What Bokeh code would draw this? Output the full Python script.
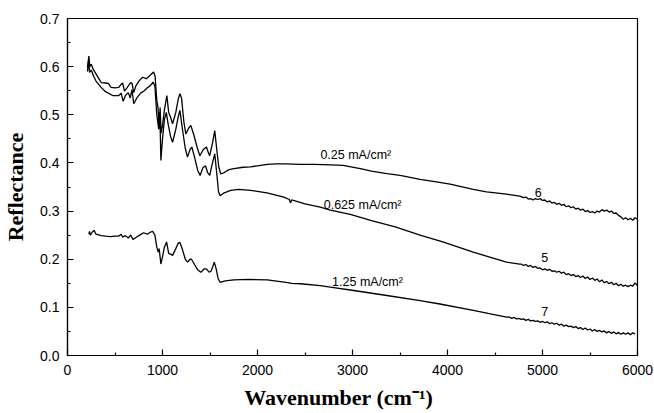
from bokeh.plotting import figure
from bokeh.models import Label, FixedTicker, NumeralTickFormatter
from bokeh.embed import file_html
from bokeh.resources import INLINE

# ---- data ----
wn_6 = [210, 225, 235, 250, 270, 300, 330, 354, 400, 430, 458, 500, 540, 563, 580, 600, 630, 660, 679, 697, 720, 760, 791, 830, 870, 906, 922, 940, 952, 965, 975, 985, 1000, 1020, 1046, 1065, 1085, 1106, 1140, 1165, 1183, 1200, 1225, 1246, 1275, 1298, 1330, 1365, 1393, 1430, 1462, 1485, 1497, 1525, 1550, 1570, 1592, 1613, 1650, 1700, 1752, 1850, 1927, 2103, 2200, 2300, 2452, 2600, 2767, 2900, 3082, 3200, 3362, 3502, 3711, 3900, 4027, 4271, 4411, 4621, 4760,
        4775, 4800, 4825, 4850, 4875, 4900, 4925, 4950, 4975, 5000, 5025, 5050, 5075, 5100, 5125, 5150, 5175, 5200, 5225, 5250, 5275, 5300, 5325, 5350, 5375, 5400, 5425, 5450, 5475, 5500, 5525, 5550, 5575, 5600, 5625, 5650, 5675, 5700, 5725, 5750, 5775, 5800, 5825, 5850, 5875, 5900, 5925, 5950, 5975, 6000]
r_6 = [0.598, 0.622, 0.600, 0.605, 0.595, 0.585, 0.575, 0.567, 0.566, 0.565, 0.557, 0.556, 0.557, 0.563, 0.566, 0.549, 0.557, 0.566, 0.566, 0.546, 0.560, 0.572, 0.578, 0.575, 0.582, 0.589, 0.580, 0.530, 0.516, 0.475, 0.515, 0.462, 0.478, 0.510, 0.540, 0.505, 0.495, 0.481, 0.505, 0.532, 0.544, 0.535, 0.485, 0.460, 0.472, 0.478, 0.458, 0.432, 0.415, 0.428, 0.433, 0.420, 0.415, 0.440, 0.467, 0.430, 0.392, 0.377, 0.380, 0.386, 0.388, 0.391, 0.392, 0.397, 0.398, 0.398, 0.397, 0.397, 0.396, 0.395, 0.388, 0.383, 0.378, 0.374, 0.366, 0.360, 0.356, 0.345, 0.340, 0.335, 0.331,
       0.330, 0.328, 0.329, 0.325, 0.326, 0.323, 0.326, 0.324, 0.326, 0.322, 0.323, 0.319, 0.321, 0.317, 0.318, 0.314, 0.316, 0.312, 0.314, 0.309, 0.311, 0.307, 0.309, 0.304, 0.306, 0.302, 0.304, 0.299, 0.301, 0.297, 0.299, 0.296, 0.300, 0.298, 0.303, 0.300, 0.302, 0.298, 0.300, 0.295, 0.296, 0.291, 0.288, 0.283, 0.286, 0.282, 0.285, 0.281, 0.286, 0.283]

wn_5 = [210, 222, 232, 250, 275, 300, 354, 400, 476, 540, 565, 585, 610, 640, 660, 679, 697, 730, 770, 808, 840, 870, 900, 920, 940, 960, 972, 983, 1000, 1020, 1040, 1060, 1085, 1106, 1140, 1165, 1183, 1210, 1240, 1263, 1290, 1309, 1340, 1370, 1396, 1425, 1452, 1475, 1497, 1520, 1550, 1570, 1590, 1606, 1650, 1718, 1800, 1927, 2100, 2277, 2335, 2347, 2360, 2500, 2661, 2767, 2977, 3200, 3450, 3711, 3950, 4271, 4621, 4760,
        4775, 4800, 4825, 4850, 4875, 4900, 4925, 4950, 4975, 5000, 5025, 5050, 5075, 5100, 5125, 5150, 5175, 5200, 5225, 5250, 5275, 5300, 5325, 5350, 5375, 5400, 5425, 5450, 5475, 5500, 5525, 5550, 5575, 5600, 5625, 5650, 5675, 5700, 5725, 5750, 5775, 5800, 5825, 5850, 5875, 5900, 5925, 5950, 5975, 6000]
r_5 = [0.590, 0.612, 0.588, 0.593, 0.580, 0.570, 0.557, 0.548, 0.540, 0.540, 0.545, 0.528, 0.540, 0.546, 0.535, 0.552, 0.523, 0.535, 0.545, 0.550, 0.556, 0.560, 0.568, 0.560, 0.500, 0.470, 0.505, 0.405, 0.450, 0.490, 0.505, 0.480, 0.455, 0.443, 0.470, 0.495, 0.509, 0.470, 0.430, 0.412, 0.428, 0.433, 0.410, 0.385, 0.374, 0.390, 0.394, 0.380, 0.374, 0.395, 0.419, 0.380, 0.340, 0.332, 0.338, 0.343, 0.345, 0.343, 0.338, 0.329, 0.324, 0.317, 0.323, 0.315, 0.308, 0.302, 0.293, 0.280, 0.267, 0.250, 0.236, 0.2146, 0.194, 0.190,
       0.190, 0.187, 0.189, 0.185, 0.187, 0.183, 0.185, 0.181, 0.182, 0.178, 0.180, 0.177, 0.179, 0.175, 0.176, 0.173, 0.175, 0.171, 0.173, 0.168, 0.170, 0.166, 0.168, 0.164, 0.166, 0.162, 0.165, 0.160, 0.163, 0.158, 0.161, 0.156, 0.159, 0.153, 0.157, 0.151, 0.154, 0.149, 0.152, 0.147, 0.150, 0.145, 0.148, 0.144, 0.146, 0.143, 0.146, 0.144, 0.151, 0.145]

wn_7 = [225, 232, 240, 260, 280, 300, 354, 400, 450, 500, 540, 565, 580, 610, 640, 665, 690, 720, 760, 800, 840, 870, 896, 920, 940, 955, 965, 983, 1000, 1020, 1043, 1065, 1090, 1106, 1140, 1165, 1183, 1210, 1240, 1263, 1290, 1305, 1340, 1370, 1403, 1440, 1462, 1490, 1510, 1530, 1545, 1565, 1585, 1606, 1660, 1752, 1900, 2103, 2300, 2360, 2452, 2661, 2767, 3012, 3362, 3711, 3920, 4271, 4621,
        4650, 4675, 4700, 4725, 4750, 4775, 4800, 4825, 4850, 4875, 4900, 4925, 4950, 4975, 5000, 5025, 5050, 5075, 5100, 5125, 5150, 5175, 5200, 5225, 5250, 5275, 5300, 5325, 5350, 5375, 5400, 5425, 5450, 5475, 5500, 5525, 5550, 5575, 5600, 5625, 5650, 5675, 5700, 5725, 5750, 5775, 5800, 5825, 5850, 5875, 5900, 5925, 5950, 5975, 6000]
r_7 = [0.252, 0.258, 0.250, 0.256, 0.260, 0.252, 0.249, 0.248, 0.247, 0.248, 0.248, 0.252, 0.246, 0.249, 0.244, 0.250, 0.241, 0.245, 0.250, 0.255, 0.252, 0.256, 0.258, 0.250, 0.225, 0.215, 0.222, 0.190, 0.205, 0.225, 0.236, 0.212, 0.210, 0.208, 0.222, 0.233, 0.235, 0.220, 0.200, 0.194, 0.200, 0.200, 0.188, 0.178, 0.173, 0.180, 0.180, 0.173, 0.175, 0.185, 0.194, 0.180, 0.160, 0.152, 0.155, 0.157, 0.158, 0.157, 0.152, 0.150, 0.149, 0.145, 0.142, 0.135, 0.1246, 0.114, 0.107, 0.0935, 0.0796,
       0.080, 0.077, 0.079, 0.076, 0.077, 0.075, 0.076, 0.073, 0.075, 0.072, 0.073, 0.071, 0.072, 0.069, 0.071, 0.068, 0.070, 0.066, 0.068, 0.065, 0.067, 0.063, 0.065, 0.061, 0.063, 0.060, 0.061, 0.058, 0.060, 0.056, 0.058, 0.054, 0.057, 0.053, 0.055, 0.051, 0.054, 0.050, 0.052, 0.049, 0.051, 0.047, 0.050, 0.046, 0.049, 0.045, 0.048, 0.044, 0.047, 0.044, 0.047, 0.043, 0.047, 0.045]

x_ticks = [0, 1000, 2000, 3000, 4000, 5000, 6000]
y_ticks = [0.0, 0.1, 0.2, 0.3, 0.4, 0.5, 0.6, 0.7]

label_texts = ["0.25 mA/cm\u00b2", "6", "0.625 mA/cm\u00b2", "5", "1.25 mA/cm\u00b2", "7"]
label_x = [2662, 4918, 2697, 4988, 2785, 4988]
label_y = [0.4175, 0.339, 0.3116, 0.203, 0.152, 0.092]

x_title = "Wavenumber (cm\u207b\u00b9)"
y_title = "Reflectance"

# ---- figure ----
p = figure(width=654, height=413, x_range=(0, 6000), y_range=(0, 0.7),
           output_backend="svg", toolbar_location=None,
           min_border_left=66, min_border_right=17, min_border_top=18, min_border_bottom=58)
p.grid.visible = False
p.outline_line_color = "black"
p.outline_line_width = 1.2
p.background_fill_color = "white"
p.border_fill_color = "white"

for xs, ys in [(wn_6, r_6), (wn_5, r_5), (wn_7, r_7)]:
    p.line(xs, ys, line_color="black", line_width=1.3)

for ax in (p.xaxis[0], p.yaxis[0]):
    ax.axis_line_color = "black"
    ax.axis_line_width = 1.2
    ax.major_tick_in = 6
    ax.major_tick_out = 0
    ax.minor_tick_in = 3
    ax.minor_tick_out = 0
    ax.major_tick_line_width = 1.2
    ax.minor_tick_line_width = 1.2
    ax.major_label_text_font = "Liberation Sans"
    ax.major_label_text_font_size = "14px"
    ax.major_label_text_color = "black"
    ax.axis_label_text_font = "Liberation Serif"
    ax.axis_label_text_font_style = "bold"
    ax.axis_label_text_font_size = "22px"
    ax.axis_label_text_color = "black"

p.xaxis[0].ticker = FixedTicker(ticks=x_ticks, minor_ticks=[v + 500 for v in x_ticks[:-1]])
p.yaxis[0].ticker = FixedTicker(ticks=y_ticks, minor_ticks=[round(v + 0.05, 2) for v in y_ticks[:-1]])
p.yaxis[0].formatter = NumeralTickFormatter(format="0.0")
p.xaxis[0].formatter = NumeralTickFormatter(format="0")
p.yaxis[0].axis_label = y_title
# trailing no-break spaces shift the centred title a little left, as in the reference
p.xaxis[0].axis_label = x_title + "\u00a0" * 5
p.xaxis[0].major_label_standoff = 9
p.xaxis[0].axis_label_standoff = 7
p.yaxis[0].major_label_standoff = 8
p.yaxis[0].axis_label_standoff = 9

for t, x, y in zip(label_texts, label_x, label_y):
    p.add_layout(Label(x=x, y=y, text=t, text_font="Liberation Sans", text_font_size="12.5px",
                       text_color="black", text_baseline="alphabetic", text_align="left"))

open("out.html", "w").write(file_html(p, INLINE))
